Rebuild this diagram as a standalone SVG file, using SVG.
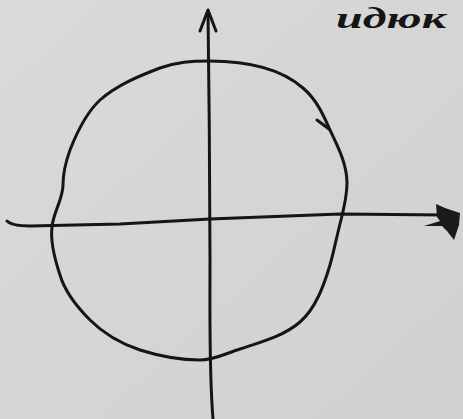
<svg xmlns="http://www.w3.org/2000/svg" width="463" height="419" viewBox="0 0 463 419">
<defs>
<linearGradient id="paper" x1="0" y1="0" x2="1" y2="1">
<stop offset="0" stop-color="#dadada"/>
<stop offset="1" stop-color="#d2d0cf"/>
</linearGradient>
<style>
.ink{fill:none;stroke:#151515;stroke-width:3;stroke-linecap:round;stroke-linejoin:round}
.blob{fill:#1a1a1a}
.hand{font-family:"Liberation Serif","DejaVu Serif",serif;font-style:italic;font-weight:bold;font-size:30px;fill:#151515}
</style>
</defs>
<rect width="463" height="419" fill="url(#paper)"/>
<g id="connectors">
<g id="y-axis">
<path class="ink" d="M208,11 C209,80 210,200 210,260 C210,320 209,370 213,419"/>
<path class="ink" d="M200,31 L208,10 L216,31"/>
</g>
<g id="x-axis">
<path class="ink" d="M7,221 Q12,226 30,226 L120,224 L210,219 L340,214 L445,215"/>
<path class="blob" d="M436,204 L445,208 L460,213 L459,225 L454,240 L447,231 L442,226 L424,226 L440,221 L437,217 Z"/>
</g>
</g>
<g id="circle">
<path class="ink" d="M209,61 C242,61 278,66 303,88 C316,99 323,114 330,130 C338,147 347,164 347,183 C347,195 344,208 341,220 C337,235 334,251 330,265 C324,285 316,308 300,322 C284,336 261,342 240,349 C227,353 214,360 200,360 C180,360 159,356 140,350 C122,344 103,333 90,320 C77,307 65,292 60,275 C55,260 50,243 52,227 C53,213 63,199 63,185 C63,173 66,161 70,150 C77,132 86,113 100,100 C117,85 139,76 160,68 C177,62 191,61 209,61 Z"/>
<path class="ink" d="M317,120 L329,129"/>
</g>
<g id="label">
<text class="hand" x="336" y="28" textLength="110" lengthAdjust="spacingAndGlyphs">идюк</text>
</g>
</svg>
